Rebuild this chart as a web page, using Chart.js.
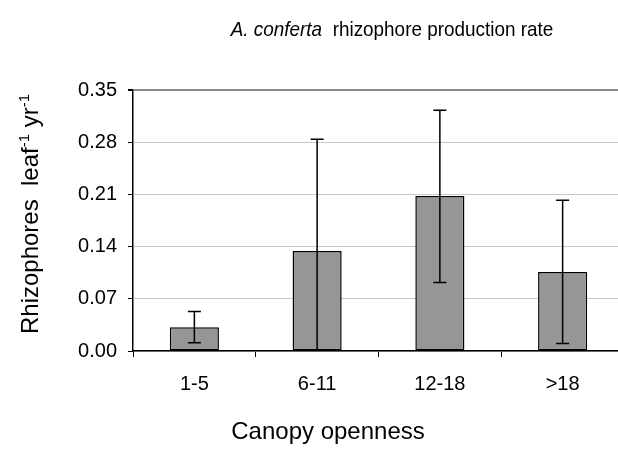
<!DOCTYPE html>
<html>
<head>
<meta charset="utf-8">
<script src="https://cdn.jsdelivr.net/npm/chart.js@4"></script>
<style>
  html, body { margin: 0; padding: 0; background: #fff; overflow: hidden; }
  #wrap { width: 618px; height: 451px; overflow: hidden; }
  canvas { display: block; }
</style>
</head>
<body>
<div id="wrap"><canvas id="rateChart" width="624" height="451"></canvas></div>
<script>
// Canopy openness classes and mean rhizophore production (per leaf per year)
var categories = ['1-5', '6-11', '12-18', '>18'];
var means = [0.032, 0.134, 0.208, 0.106];
// error bar ends (mean +/- 1 SD); the 6-11 lower end runs below zero
var errUpper = [0.053, 0.284, 0.323, 0.202];
var errLower = [0.011, -0.016, 0.092, 0.010];
var yTicks = [0, 0.07, 0.14, 0.21, 0.28, 0.35];

var FONT = '"Liberation Sans", Arial, sans-serif';

// draw a row of text runs (mixed italic / superscript) centred on cx,
// optionally squeezed horizontally by sx
function drawRuns(ctx, runs, cx, baseY, sx) {
  var total = 0;
  runs.forEach(function(r) {
    ctx.font = r.font;
    r.w = ctx.measureText(r.text).width;
    total += r.w;
  });
  ctx.save();
  ctx.translate(cx, baseY);
  ctx.scale(sx || 1, 1);
  var x = -total / 2;
  runs.forEach(function(r) {
    ctx.font = r.font;
    ctx.fillText(r.text, x, r.dy || 0);
    x += r.w;
  });
  ctx.restore();
}

var errorBars = {
  id: 'errorBars',
  afterDatasetsDraw: function(chart) {
    var ctx = chart.ctx, y = chart.scales.y, area = chart.chartArea;
    var meta = chart.getDatasetMeta(0);
    ctx.save();
    ctx.beginPath();
    ctx.rect(area.left, area.top - 2, area.right - area.left, area.bottom - area.top + 2);
    ctx.clip();
    ctx.strokeStyle = '#000';
    ctx.lineWidth = 1.5;
    meta.data.forEach(function(bar, i) {
      var x = bar.x;
      var top = y.getPixelForValue(errUpper[i]);
      var bot = y.getPixelForValue(errLower[i]);
      ctx.beginPath();
      ctx.moveTo(x, top); ctx.lineTo(x, bot);
      ctx.moveTo(x - 6.5, top); ctx.lineTo(x + 6.5, top);
      ctx.moveTo(x - 6.5, bot); ctx.lineTo(x + 6.5, bot);
      ctx.stroke();
    });
    ctx.restore();
  }
};

var labelText = {
  id: 'labelText',
  afterDraw: function(chart) {
    var ctx = chart.ctx;
    ctx.save();
    ctx.fillStyle = '#000';
    ctx.textBaseline = 'alphabetic';
    ctx.textAlign = 'left';

    // chart title
    drawRuns(ctx, [
      { text: 'A. conferta', font: 'italic 21px ' + FONT },
      { text: '  rhizophore production rate', font: '21px ' + FONT }
    ], 392, 36, 0.9);

    // x axis title
    drawRuns(ctx, [{ text: 'Canopy openness', font: '24px ' + FONT }], 328, 439);

    // y axis title with superscripts
    ctx.save();
    ctx.translate(38, 214);
    ctx.rotate(-Math.PI / 2);
    drawRuns(ctx, [
      { text: 'Rhizophores  leaf', font: '24px ' + FONT },
      { text: '-1', font: '15px ' + FONT, dy: -9 },
      { text: ' yr', font: '24px ' + FONT },
      { text: '-1', font: '15px ' + FONT, dy: -9 }
    ], 0, 0);
    ctx.restore();

    ctx.restore();
  }
};

new Chart(document.getElementById('rateChart'), {
  type: 'bar',
  data: {
    labels: categories,
    datasets: [{
      data: means,
      backgroundColor: '#969696',
      borderColor: '#000',
      borderWidth: 1.5,
      borderSkipped: false,
      barPercentage: 0.4,
      categoryPercentage: 1
    }]
  },
  options: {
    responsive: false,
    devicePixelRatio: 1,
    animation: false,
    layout: { padding: { top: 90, left: 0, right: 0, bottom: 0 } },
    plugins: { legend: { display: false }, tooltip: { enabled: false } },
    scales: {
      x: {
        afterFit: function(s) { s.height = 100; },
        grid: { drawOnChartArea: false, offset: true, tickLength: 6, tickColor: '#000' },
        border: { color: '#000', width: 1.5 },
        ticks: { color: '#000', padding: 15, font: { family: FONT, size: 20 } }
      },
      y: {
        min: 0,
        max: 0.35,
        afterFit: function(s) { s.width = 133; },
        afterBuildTicks: function(s) {
          s.ticks = yTicks.map(function(v) { return { value: v }; });
        },
        grid: {
          color: function(c) { return c.tick && c.tick.value === 0.35 ? '#8a8a8a' : '#c8c8c8'; },
          lineWidth: function(c) { return c.tick && c.tick.value === 0.35 ? 2 : 1; },
          tickLength: 5,
          tickColor: '#000'
        },
        border: { color: '#000', width: 1.5 },
        ticks: {
          color: '#000',
          padding: 11,
          font: { family: FONT, size: 20 },
          callback: function(v) { return Number(v).toFixed(2); }
        }
      }
    }
  },
  plugins: [errorBars, labelText]
});
</script>
</body>
</html>
